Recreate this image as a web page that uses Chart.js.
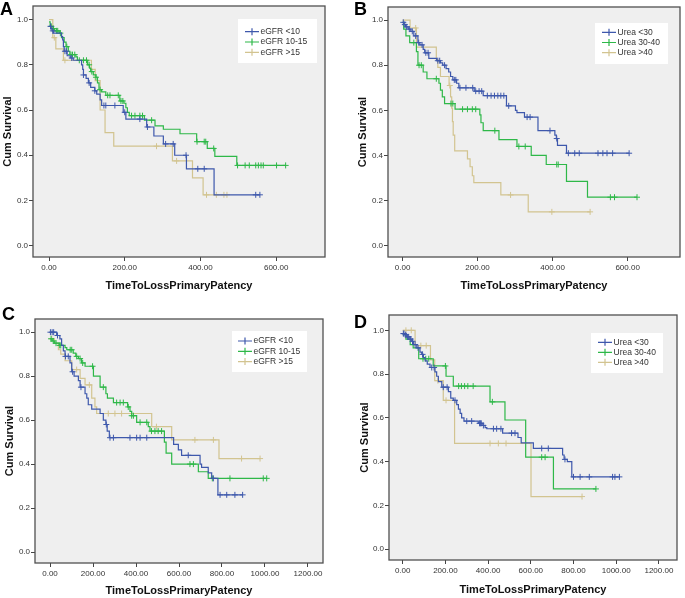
<!DOCTYPE html>
<html>
<head>
<meta charset="utf-8">
<title>Kaplan-Meier primary patency</title>
<script src="https://cdn.jsdelivr.net/npm/chart.js@4.4.1/dist/chart.umd.min.js"></script>
<style>
    body { margin: 0; background: #fff; }
    #page { position: relative; width: 685px; height: 598px; overflow: hidden; font-family: "Liberation Sans", Arial, sans-serif; }
    .panel { position: absolute; }
    .letter { position: absolute; font-weight: bold; font-size: 18px; line-height: 18px; color: #000; }
</style>
</head>
<body>
<div id="page">
    <canvas class="panel" id="chartA" width="340" height="300" style="left:0;top:0"></canvas>
    <canvas class="panel" id="chartB" width="345" height="300" style="left:340px;top:0"></canvas>
    <canvas class="panel" id="chartC" width="340" height="298" style="left:0;top:300px"></canvas>
    <canvas class="panel" id="chartD" width="345" height="298" style="left:340px;top:300px"></canvas>
    <div class="letter" style="left:0;top:0">A</div>
    <div class="letter" style="left:354px;top:0">B</div>
    <div class="letter" style="left:2px;top:305px">C</div>
    <div class="letter" style="left:354px;top:313px">D</div>
</div>
<script>
// axis ticks and group labels
const xTicksShort = [0, 200, 400, 600];
const xTicksLong = [0, 200, 400, 600, 800, 1000, 1200];
const yTicks = [0, 0.2, 0.4, 0.6, 0.8, 1.0];
const egfrLabels = ["eGFR <10", "eGFR 10-15", "eGFR >15"];
const ureaLabels = ["Urea <30", "Urea 30-40", "Urea >40"];
const groupColors = ["#3e58ac", "#2eb848", "#d2c490"];

// Panel A - eGFR, steps are [time, cum survival], censored are times
const aLowSteps = [[0, 0.97], [5, 0.96], [8, 0.95], [12, 0.94], [33, 0.925], [36, 0.91], [38, 0.88], [40, 0.86], [48, 0.84], [56, 0.83], [64, 0.82], [86, 0.80], [89, 0.78], [91, 0.755], [98, 0.74], [104, 0.72], [110, 0.70], [121, 0.685], [126, 0.67], [135, 0.645], [139, 0.62], [196, 0.59], [203, 0.56], [258, 0.525], [277, 0.485], [302, 0.45], [332, 0.40], [363, 0.34], [436, 0.225]];
const aLowCens = [4, 10, 42, 46, 60, 91, 106, 121, 145, 150, 174, 200, 240, 260, 308, 328, 362, 393, 410, 546, 557];
const aMidSteps = [[0, 0.99], [3, 0.97], [8, 0.96], [15, 0.95], [27, 0.94], [33, 0.92], [40, 0.90], [45, 0.88], [51, 0.86], [55, 0.845], [71, 0.835], [75, 0.82], [102, 0.80], [107, 0.785], [110, 0.77], [117, 0.755], [124, 0.745], [128, 0.72], [132, 0.69], [139, 0.68], [150, 0.665], [187, 0.64], [198, 0.63], [203, 0.61], [207, 0.59], [212, 0.575], [252, 0.555], [280, 0.53], [302, 0.515], [346, 0.495], [390, 0.46], [418, 0.43], [438, 0.395], [496, 0.355]];
const aMidCens = [6, 12, 20, 23, 30, 47, 58, 62, 68, 80, 91, 99, 106, 113, 124, 135, 155, 161, 183, 190, 195, 218, 227, 240, 247, 271, 391, 410, 414, 435, 498, 518, 529, 546, 553, 560, 566, 601, 625];
const aHighSteps = [[0, 1.0], [10, 0.92], [18, 0.87], [38, 0.82], [112, 0.78], [122, 0.73], [135, 0.60], [148, 0.50], [171, 0.44], [326, 0.375], [379, 0.30], [407, 0.225]];
const aHighCens = [14, 42, 284, 337, 416, 442, 462, 470];

// Panel B - urea
const bLowSteps = [[0, 0.99], [4, 0.98], [8, 0.97], [15, 0.96], [22, 0.95], [30, 0.93], [41, 0.90], [46, 0.89], [55, 0.87], [59, 0.855], [70, 0.83], [91, 0.82], [101, 0.81], [107, 0.80], [116, 0.785], [123, 0.77], [128, 0.75], [134, 0.735], [144, 0.72], [150, 0.70], [191, 0.685], [215, 0.665], [277, 0.62], [301, 0.60], [305, 0.59], [325, 0.57], [361, 0.51], [406, 0.49], [410, 0.475], [413, 0.445], [437, 0.41]];
const bLowCens = [2, 6, 11, 18, 26, 35, 43, 52, 62, 68, 94, 99, 112, 138, 142, 153, 169, 187, 195, 204, 211, 226, 236, 245, 254, 262, 270, 283, 332, 340, 393, 411, 442, 459, 471, 521, 534, 545, 560, 604];
const bMidSteps = [[0, 0.99], [3, 0.96], [9, 0.93], [19, 0.90], [37, 0.86], [41, 0.80], [55, 0.77], [65, 0.74], [97, 0.72], [101, 0.69], [106, 0.66], [112, 0.63], [140, 0.605], [206, 0.58], [209, 0.545], [215, 0.51], [257, 0.47], [305, 0.44], [343, 0.40], [383, 0.36], [437, 0.285], [493, 0.215]];
const bMidCens = [30, 44, 50, 90, 129, 134, 160, 173, 186, 195, 246, 310, 327, 411, 415, 554, 565, 625];
const bHighSteps = [[0, 1.0], [20, 0.965], [37, 0.88], [90, 0.825], [94, 0.79], [101, 0.75], [124, 0.71], [128, 0.66], [131, 0.61], [133, 0.55], [135, 0.49], [139, 0.42], [173, 0.385], [180, 0.35], [186, 0.31], [190, 0.28], [262, 0.225], [335, 0.15]];
const bHighCens = [35, 126, 288, 398, 500];

// Panel C - eGFR
const cLowSteps = [[0, 1.0], [31, 0.985], [46, 0.97], [54, 0.94], [62, 0.915], [70, 0.89], [93, 0.86], [101, 0.82], [112, 0.80], [132, 0.78], [140, 0.75], [163, 0.72], [171, 0.70], [178, 0.67], [194, 0.65], [233, 0.63], [248, 0.60], [260, 0.58], [266, 0.55], [276, 0.52], [575, 0.49], [597, 0.465], [612, 0.44], [698, 0.40], [705, 0.385], [736, 0.36], [752, 0.335], [781, 0.26]];
const cLowCens = [2, 10, 17, 35, 72, 85, 105, 144, 262, 279, 295, 372, 403, 419, 450, 643, 760, 791, 822, 860, 896];
const cMidSteps = [[0, 0.97], [10, 0.96], [20, 0.95], [43, 0.94], [70, 0.93], [78, 0.92], [108, 0.905], [120, 0.89], [132, 0.88], [147, 0.86], [163, 0.845], [202, 0.80], [233, 0.75], [260, 0.72], [267, 0.70], [295, 0.68], [361, 0.66], [372, 0.64], [380, 0.62], [403, 0.59], [457, 0.57], [465, 0.55], [532, 0.50], [540, 0.45], [566, 0.40], [690, 0.365], [736, 0.335]];
const cMidCens = [5, 15, 28, 45, 50, 94, 101, 124, 140, 152, 198, 248, 310, 326, 341, 364, 380, 388, 419, 450, 472, 488, 503, 519, 651, 667, 755, 837, 992, 1008];
const cHighSteps = [[0, 0.97], [20, 0.95], [39, 0.92], [50, 0.90], [70, 0.87], [101, 0.83], [140, 0.79], [163, 0.76], [194, 0.70], [209, 0.66], [217, 0.63], [473, 0.57], [566, 0.51], [786, 0.425]];
const cHighCens = [8, 124, 183, 271, 302, 333, 495, 674, 760, 891, 977];

// Panel D - urea
const dLowSteps = [[0, 0.985], [11, 0.98], [19, 0.97], [34, 0.96], [42, 0.95], [50, 0.935], [66, 0.92], [81, 0.90], [89, 0.89], [97, 0.875], [105, 0.86], [115, 0.845], [128, 0.83], [151, 0.81], [159, 0.79], [167, 0.765], [183, 0.74], [214, 0.72], [225, 0.69], [237, 0.68], [253, 0.66], [261, 0.64], [269, 0.62], [276, 0.60], [287, 0.585], [354, 0.575], [372, 0.565], [386, 0.555], [394, 0.55], [468, 0.53], [540, 0.51], [555, 0.485], [612, 0.46], [749, 0.43], [756, 0.41], [771, 0.40], [792, 0.33]];
const dLowCens = [3, 6, 14, 23, 28, 38, 46, 58, 72, 93, 136, 147, 190, 208, 245, 300, 323, 360, 364, 368, 378, 425, 440, 460, 510, 526, 651, 682, 760, 800, 831, 874, 983, 994, 1015];
const dMidSteps = [[0, 0.98], [15, 0.96], [35, 0.935], [49, 0.92], [75, 0.87], [143, 0.837], [203, 0.79], [237, 0.745], [409, 0.673], [479, 0.59], [576, 0.42], [706, 0.275]];
const dMidCens = [95, 108, 122, 200, 262, 275, 290, 305, 330, 420, 651, 667, 905];
const dHighSteps = [[0, 1.0], [58, 0.93], [130, 0.865], [150, 0.77], [190, 0.68], [243, 0.483], [601, 0.24]];
const dHighCens = [15, 40, 85, 110, 165, 203, 409, 448, 484, 840];

Chart.defaults.font.family = '"Liberation Sans", Arial, sans-serif';

// value of the step curve at time t (where the censor cross sits)
const survAt = (steps, t) => {
    let s = steps[0][1];
    for (const [x, y] of steps) {
        if (x <= t) s = y;
    }
    return s;
};

const curveSets = (steps, cens, color) => {
    const censPts = cens.map(t => ({ x: t, y: survAt(steps, t) }));
    const line = steps.map(([x, y]) => ({ x: x, y: y })).concat(censPts).sort((p, q) => p.x - q.x);
    return [
        { data: line, borderColor: color, borderWidth: 1.2, stepped: true, pointRadius: 0, fill: false },
        { data: censPts, showLine: false, pointStyle: "cross", pointRadius: 3, borderColor: color, borderWidth: 1 }
    ];
};

// grey plot background + dark frame
const framePlugin = {
    id: "frame",
    beforeDatasetsDraw(chart) {
        const { ctx, chartArea: a } = chart;
        ctx.save();
        ctx.fillStyle = "#efefef";
        ctx.fillRect(a.left, a.top, a.right - a.left, a.bottom - a.top);
        ctx.restore();
    },
    afterDatasetsDraw(chart) {
        const { ctx, chartArea: a } = chart;
        ctx.save();
        ctx.strokeStyle = "#505050";
        ctx.lineWidth = 1.3;
        ctx.strokeRect(a.left, a.top, a.right - a.left, a.bottom - a.top);
        ctx.restore();
    }
};

// SPSS-like legend box inside the plot
const kmLegend = {
    id: "kmLegend",
    afterDraw(chart, args, opts) {
        const ctx = chart.ctx;
        ctx.save();
        ctx.fillStyle = "#ffffff";
        ctx.fillRect(opts.box[0], opts.box[1], opts.box[2], opts.box[3]);
        ctx.font = '8.5px "Liberation Sans", Arial, sans-serif';
        ctx.textBaseline = "middle";
        opts.labels.forEach((label, i) => {
            const y = opts.rowY + i * opts.rowGap;
            const color = groupColors[i];
            ctx.strokeStyle = color;
            ctx.lineWidth = 1.2;
            ctx.beginPath();
            ctx.moveTo(opts.lineX, y);
            ctx.lineTo(opts.lineX + opts.lineW, y);
            const mx = opts.lineX + opts.lineW / 2;
            ctx.moveTo(mx, y - 3.5);
            ctx.lineTo(mx, y + 3.5);
            ctx.stroke();
            ctx.fillStyle = "#333";
            ctx.fillText(label, opts.lineX + opts.lineW + 1.5, y);
        });
        ctx.restore();
    }
};

const makeChart = (id, cfg) => {
    const datasets = [];
    cfg.curves.forEach((c, i) => {
        datasets.push(...curveSets(c[0], c[1], groupColors[i]));
    });
    return new Chart(document.getElementById(id), {
        type: "line",
        data: { datasets: datasets },
        options: {
            responsive: false,
            animation: false,
            events: [],
            layout: { padding: { top: cfg.padTop, right: cfg.padRight, left: 0, bottom: 0 } },
            plugins: {
                legend: { display: false },
                tooltip: { enabled: false },
                kmLegend: cfg.legend
            },
            scales: {
                x: {
                    type: "linear",
                    min: cfg.xMin,
                    max: cfg.xMax,
                    afterBuildTicks: (s) => { s.ticks = cfg.xTicks.map(v => ({ value: v })); },
                    afterFit: (s) => { s.height = cfg.xAxisH; },
                    grid: { drawOnChartArea: false, drawTicks: true, tickLength: 4, color: "#444" },
                    border: { display: false },
                    ticks: { callback: v => v.toFixed(2), font: { size: 8 }, color: "#333", padding: 2, maxRotation: 0, autoSkip: false },
                    title: { display: true, text: "TimeToLossPrimaryPatency", font: { size: 11, weight: "bold" }, color: "#111", padding: { top: 0, bottom: cfg.xTitlePad } }
                },
                y: {
                    min: -0.05,
                    max: cfg.yMax,
                    afterBuildTicks: (s) => { s.ticks = yTicks.map(v => ({ value: v })); },
                    afterFit: (s) => { s.width = cfg.yAxisW; },
                    grid: { drawOnChartArea: false, drawTicks: true, tickLength: 4, color: "#444" },
                    border: { display: false },
                    ticks: { callback: v => v.toFixed(1), font: { size: 8 }, color: "#333", padding: 1 },
                    title: { display: true, text: "Cum Survival", font: { size: 11, weight: "bold" }, color: "#111", padding: { top: cfg.yTitlePad, bottom: 0 } }
                }
            }
        },
        plugins: [framePlugin, kmLegend]
    });
};

makeChart("chartA", {
    curves: [[aLowSteps, aLowCens], [aMidSteps, aMidCens], [aHighSteps, aHighCens]],
    xTicks: xTicksShort, xMin: -42.3, xMax: 729, yMax: 1.06,
    padTop: 6, padRight: 15, yAxisW: 33, xAxisH: 43, xTitlePad: 7.7, yTitlePad: 1.7,
    legend: { labels: egfrLabels, box: [238, 19, 79, 44], rowY: 31.7, rowGap: 10.3, lineX: 245, lineW: 14 }
});

makeChart("chartB", {
    curves: [[bLowSteps, bLowCens], [bMidSteps, bMidCens], [bHighSteps, bHighCens]],
    xTicks: xTicksShort, xMin: -38.8, xMax: 739.6, yMax: 1.058,
    padTop: 7, padRight: 2, yAxisW: 48, xAxisH: 43, xTitlePad: 7.7, yTitlePad: 16.7,
    legend: { labels: ureaLabels, box: [255, 23, 73, 41], rowY: 32.3, rowGap: 10.2, lineX: 262, lineW: 14 }
});

makeChart("chartC", {
    curves: [[cLowSteps, cLowCens], [cMidSteps, cMidCens], [cHighSteps, cHighCens]],
    xTicks: xTicksLong, xMin: -69.8, xMax: 1269.8, yMax: 1.06,
    padTop: 19, padRight: 17, yAxisW: 35, xAxisH: 35, xTitlePad: 0.4, yTitlePad: 3.4,
    legend: { labels: egfrLabels, box: [232, 31, 75, 41], rowY: 41, rowGap: 10.3, lineX: 238, lineW: 14 }
});

makeChart("chartD", {
    curves: [[dLowSteps, dLowCens], [dMidSteps, dMidCens], [dHighSteps, dHighCens]],
    xTicks: xTicksLong, xMin: -64.2, xMax: 1284.8, yMax: 1.07,
    padTop: 15, padRight: 8, yAxisW: 49, xAxisH: 38, xTitlePad: 1.4, yTitlePad: 18.4,
    legend: { labels: ureaLabels, box: [251, 33, 72, 40], rowY: 42.3, rowGap: 10, lineX: 258, lineW: 14 }
});
</script>
</body>
</html>
